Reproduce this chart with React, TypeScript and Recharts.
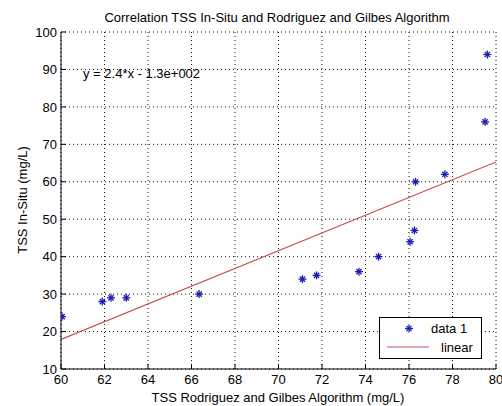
import React from 'react';
import {
  ComposedChart, Scatter, Line, XAxis, YAxis, CartesianGrid,
} from 'recharts';

const xValues = [60.05, 61.9, 62.3, 63.0, 66.35, 71.1, 71.75, 73.7, 74.6, 76.05, 76.25, 76.3, 77.65, 79.5, 79.6];
const yValues = [24, 28, 29, 29, 30, 34, 35, 36, 40, 44, 47, 60, 62, 76, 94];
const fitX = [60, 80];
const fitY = [17.9, 65.3];
const xTicks = [60, 62, 64, 66, 68, 70, 72, 74, 76, 78, 80];
const yTicks = [10, 20, 30, 40, 50, 60, 70, 80, 90, 100];

const title = 'Correlation TSS In-Situ and Rodriguez and Gilbes Algorithm';
const xLabel = 'TSS Rodriguez and Gilbes Algorithm (mg/L)';
const yLabel = 'TSS In-Situ (mg/L)';
const equation = 'y = 2.4*x - 1.3e+002';
const seriesNames = ['data 1', 'linear'];

const scatterData = xValues.map((x, i) => ({ x, y: yValues[i] }));
const fitData = fitX.map((x, i) => ({ x, y: fitY[i] }));

const FONT = '"Liberation Sans", Arial, sans-serif';
const MARK = '#1a1ab4';
const FIT = '#c0504d';

const Star = (props: any) => {
  const { cx, cy } = props;
  if (cx == null || cy == null) return null;
  const r = 4;
  const d = 2.6;
  return (
    <g stroke={MARK} strokeWidth={1.3}>
      <line x1={cx - r} y1={cy} x2={cx + r} y2={cy} />
      <line x1={cx} y1={cy - r} x2={cx} y2={cy + r} />
      <line x1={cx - d} y1={cy - d} x2={cx + d} y2={cy + d} />
      <line x1={cx - d} y1={cy + d} x2={cx + d} y2={cy - d} />
    </g>
  );
};

const XTick = (props: any) => {
  const { x, y, payload } = props;
  return (
    <g>
      <line x1={x} y1={y} x2={x} y2={y - 5} stroke="#000" strokeWidth={1} />
      <text x={x} y={y + 15} textAnchor="middle" fontSize={13} fontFamily={FONT} fill="#000">
        {payload.value}
      </text>
    </g>
  );
};

const YTick = (props: any) => {
  const { x, y, payload } = props;
  return (
    <g>
      <line x1={x} y1={y} x2={x + 5} y2={y} stroke="#000" strokeWidth={1} />
      <text x={x - 4} y={y} dy="0.36em" textAnchor="end" fontSize={13} fontFamily={FONT} fill="#000">
        {payload.value}
      </text>
    </g>
  );
};

export default function App() {
  return (
    <div style={{ position: 'absolute', left: 0, top: 0, width: 502, height: 406, background: '#fff' }}>
      <ComposedChart
        width={502}
        height={406}
        margin={{ top: 32, right: 6, bottom: 0, left: 0 }}
        style={{ position: 'absolute', left: 0, top: 0 }}
      >
        <CartesianGrid stroke="#111" strokeDasharray="1 3" />
        <XAxis
          dataKey="x"
          type="number"
          domain={[60, 80]}
          ticks={xTicks}
          allowDataOverflow
          height={37}
          tickSize={0}
          tickMargin={0}
          tickLine={false}
          tick={<XTick />}
          axisLine={{ stroke: '#000', strokeWidth: 1 }}
          interval={0}
        />
        <YAxis
          dataKey="y"
          type="number"
          domain={[10, 100]}
          ticks={yTicks}
          allowDataOverflow
          width={61}
          tickSize={0}
          tickMargin={0}
          tickLine={false}
          tick={<YTick />}
          axisLine={{ stroke: '#000', strokeWidth: 1 }}
          interval={0}
        />
        <Line
          data={fitData}
          dataKey="y"
          type="linear"
          stroke={FIT}
          strokeWidth={1.2}
          dot={false}
          activeDot={false}
          isAnimationActive={false}
          name={seriesNames[1]}
        />
        <Scatter
          data={scatterData}
          dataKey="y"
          shape={<Star />}
          isAnimationActive={false}
          name={seriesNames[0]}
        />
      </ComposedChart>
      <svg width={502} height={406} style={{ position: 'absolute', left: 0, top: 0, pointerEvents: 'none' }}>
        <text x={277} y={17} dy="0.36em" textAnchor="middle" fontSize={13} fontFamily={FONT} fill="#000">{title}</text>
        <text x={278} y={397} dy="0.36em" textAnchor="middle" fontSize={13} fontFamily={FONT} fill="#000">{xLabel}</text>
        <text
          x={22}
          y={200}
          dy="0.36em"
          textAnchor="middle"
          fontSize={13}
          fontFamily={FONT}
          fill="#000"
          transform="rotate(-90 22 200)"
        >
          {yLabel}
        </text>
        <text x={83} y={73} dy="0.36em" fontSize={13} fontFamily={FONT} fill="#000">{equation}</text>
        <g transform="translate(379 317)">
          <rect x={0.5} y={0.5} width={102} height={41} fill="#fff" stroke="#000" strokeWidth={1} />
          <Star cx={30} cy={11.5} />
          <text x={52} y={11.5} dy="0.36em" fontSize={13} fontFamily={FONT} fill="#000">{seriesNames[0]}</text>
          <line x1={8} y1={30} x2={50} y2={30} stroke={FIT} strokeWidth={1.2} />
          <text x={62} y={30} dy="0.36em" fontSize={13} fontFamily={FONT} fill="#000">{seriesNames[1]}</text>
        </g>
      </svg>
    </div>
  );
}
